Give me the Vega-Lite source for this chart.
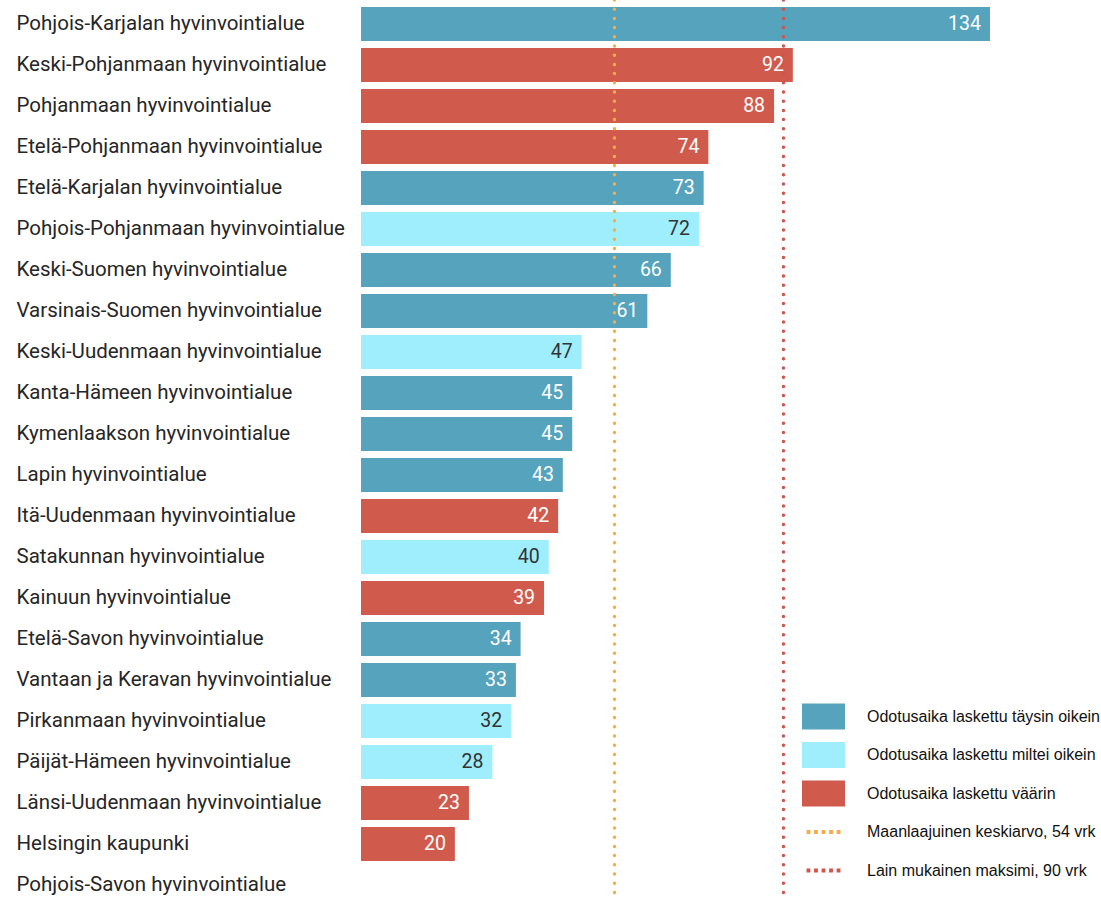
{
  "$schema": "https://vega.github.io/schema/vega-lite/v6.json",
  "width": 740,
  "height": 900,
  "autosize": {"type": "none"},
  "padding": {"left": 361, "top": 0, "right": 0, "bottom": 0},
  "background": "white",
  "config": {"view": {"stroke": null}, "font": "Roboto"},
  "data": {
    "values": [
      {"alue": "Pohjois-Karjalan hyvinvointialue", "vrk": 134, "luokka": "Odotusaika laskettu täysin oikein"},
      {"alue": "Keski-Pohjanmaan hyvinvointialue", "vrk": 92, "luokka": "Odotusaika laskettu väärin"},
      {"alue": "Pohjanmaan hyvinvointialue", "vrk": 88, "luokka": "Odotusaika laskettu väärin"},
      {"alue": "Etelä-Pohjanmaan hyvinvointialue", "vrk": 74, "luokka": "Odotusaika laskettu väärin"},
      {"alue": "Etelä-Karjalan hyvinvointialue", "vrk": 73, "luokka": "Odotusaika laskettu täysin oikein"},
      {"alue": "Pohjois-Pohjanmaan hyvinvointialue", "vrk": 72, "luokka": "Odotusaika laskettu miltei oikein"},
      {"alue": "Keski-Suomen hyvinvointialue", "vrk": 66, "luokka": "Odotusaika laskettu täysin oikein"},
      {"alue": "Varsinais-Suomen hyvinvointialue", "vrk": 61, "luokka": "Odotusaika laskettu täysin oikein"},
      {"alue": "Keski-Uudenmaan hyvinvointialue", "vrk": 47, "luokka": "Odotusaika laskettu miltei oikein"},
      {"alue": "Kanta-Hämeen hyvinvointialue", "vrk": 45, "luokka": "Odotusaika laskettu täysin oikein"},
      {"alue": "Kymenlaakson hyvinvointialue", "vrk": 45, "luokka": "Odotusaika laskettu täysin oikein"},
      {"alue": "Lapin hyvinvointialue", "vrk": 43, "luokka": "Odotusaika laskettu täysin oikein"},
      {"alue": "Itä-Uudenmaan hyvinvointialue", "vrk": 42, "luokka": "Odotusaika laskettu väärin"},
      {"alue": "Satakunnan hyvinvointialue", "vrk": 40, "luokka": "Odotusaika laskettu miltei oikein"},
      {"alue": "Kainuun hyvinvointialue", "vrk": 39, "luokka": "Odotusaika laskettu väärin"},
      {"alue": "Etelä-Savon hyvinvointialue", "vrk": 34, "luokka": "Odotusaika laskettu täysin oikein"},
      {"alue": "Vantaan ja Keravan hyvinvointialue", "vrk": 33, "luokka": "Odotusaika laskettu täysin oikein"},
      {"alue": "Pirkanmaan hyvinvointialue", "vrk": 32, "luokka": "Odotusaika laskettu miltei oikein"},
      {"alue": "Päijät-Hämeen hyvinvointialue", "vrk": 28, "luokka": "Odotusaika laskettu miltei oikein"},
      {"alue": "Länsi-Uudenmaan hyvinvointialue", "vrk": 23, "luokka": "Odotusaika laskettu väärin"},
      {"alue": "Helsingin kaupunki", "vrk": 20, "luokka": "Odotusaika laskettu väärin"},
      {"alue": "Pohjois-Savon hyvinvointialue", "vrk": null, "luokka": null}
    ]
  },
  "layer": [
    {
      "mark": {"type": "bar"},
      "encoding": {
        "y": {
          "field": "alue",
          "type": "nominal",
          "scale": {
            "domain": ["Pohjois-Karjalan hyvinvointialue", "Keski-Pohjanmaan hyvinvointialue", "Pohjanmaan hyvinvointialue", "Etelä-Pohjanmaan hyvinvointialue", "Etelä-Karjalan hyvinvointialue", "Pohjois-Pohjanmaan hyvinvointialue", "Keski-Suomen hyvinvointialue", "Varsinais-Suomen hyvinvointialue", "Keski-Uudenmaan hyvinvointialue", "Kanta-Hämeen hyvinvointialue", "Kymenlaakson hyvinvointialue", "Lapin hyvinvointialue", "Itä-Uudenmaan hyvinvointialue", "Satakunnan hyvinvointialue", "Kainuun hyvinvointialue", "Etelä-Savon hyvinvointialue", "Vantaan ja Keravan hyvinvointialue", "Pirkanmaan hyvinvointialue", "Päijät-Hämeen hyvinvointialue", "Länsi-Uudenmaan hyvinvointialue", "Helsingin kaupunki", "Pohjois-Savon hyvinvointialue"],
            "range": [3.5, 905.5],
            "paddingInner": 0.17,
            "paddingOuter": 0.085
          },
          "axis": {
            "title": null,
            "domain": false,
            "ticks": false,
            "tickSize": 0,
            "grid": false,
            "labelAlign": "left",
            "labelPadding": 345,
            "labelFont": "Roboto",
            "labelFontSize": 20.5,
            "labelColor": "#262626",
            "labelLimit": 400
          }
        },
        "x": {
          "field": "vrk",
          "type": "quantitative",
          "scale": {"domain": [0, 157.65], "nice": false},
          "axis": null
        },
        "color": {
          "field": "luokka",
          "type": "nominal",
          "scale": {
            "domain": ["Odotusaika laskettu täysin oikein", "Odotusaika laskettu miltei oikein", "Odotusaika laskettu väärin", "Maanlaajuinen keskiarvo, 54 vrk", "Lain mukainen maksimi, 90 vrk"],
            "range": ["#56A3BD", "#9EEEFD", "#D05B4C", "#F5AD4A", "#CF544A"]
          },
          "legend": {
            "title": null,
            "orient": "none",
            "legendX": 441,
            "legendY": 695,
            "padding": 0,
            "labelFont": "Liberation Sans",
            "labelFontSize": 16,
            "labelColor": "#111111",
            "labelOffset": 22,
            "labelLimit": 400,
            "symbolSize": 1849,
            "symbolStrokeWidth": 0,
            "rowPadding": 3.5,
            "encode": {
              "symbols": {
                "update": {
                  "shape": {"signal": "indexof(['Maanlaajuinen keskiarvo, 54 vrk','Lain mukainen maksimi, 90 vrk'], datum.value) >= 0 ? 'M-1,-0.6h0.001v0.001h-0.001zM0.999,0.599h0.001v0.001h-0.001zM-0.79,-0.09h0.18v0.18h-0.18zM-0.44,-0.09h0.18v0.18h-0.18zM-0.09,-0.09h0.18v0.18h-0.18zM0.26,-0.09h0.18v0.18h-0.18zM0.61,-0.09h0.18v0.18h-0.18z' : 'M-1,-0.6H1V0.6H-1Z'"}
                }
              }
            }
          }
        }
      }
    },
    {
      "mark": {"type": "text", "align": "right", "baseline": "middle", "dx": -9, "font": "Roboto", "fontSize": 19.5},
      "encoding": {
        "y": {"field": "alue", "type": "nominal"},
        "x": {"field": "vrk", "type": "quantitative", "scale": {"domain": [0, 157.65], "nice": false}},
        "text": {"field": "vrk", "type": "quantitative"},
        "color": {
          "condition": {"test": "datum.luokka === 'Odotusaika laskettu miltei oikein'", "value": "#333333"},
          "value": "#ffffff"
        }
      }
    },
    {
      "data": {"values": [{"v": 54}]},
      "mark": {"type": "rule", "color": "#F5AD4A", "strokeWidth": 3.5, "strokeDash": [0, 9.2], "strokeCap": "round"},
      "encoding": {"x": {"field": "v", "type": "quantitative", "scale": {"domain": [0, 157.65], "nice": false}}}
    },
    {
      "data": {"values": [{"v": 90}]},
      "mark": {"type": "rule", "color": "#CF544A", "strokeWidth": 3.5, "strokeDash": [0, 9.2], "strokeCap": "round"},
      "encoding": {"x": {"field": "v", "type": "quantitative", "scale": {"domain": [0, 157.65], "nice": false}}}
    }
  ]
}
